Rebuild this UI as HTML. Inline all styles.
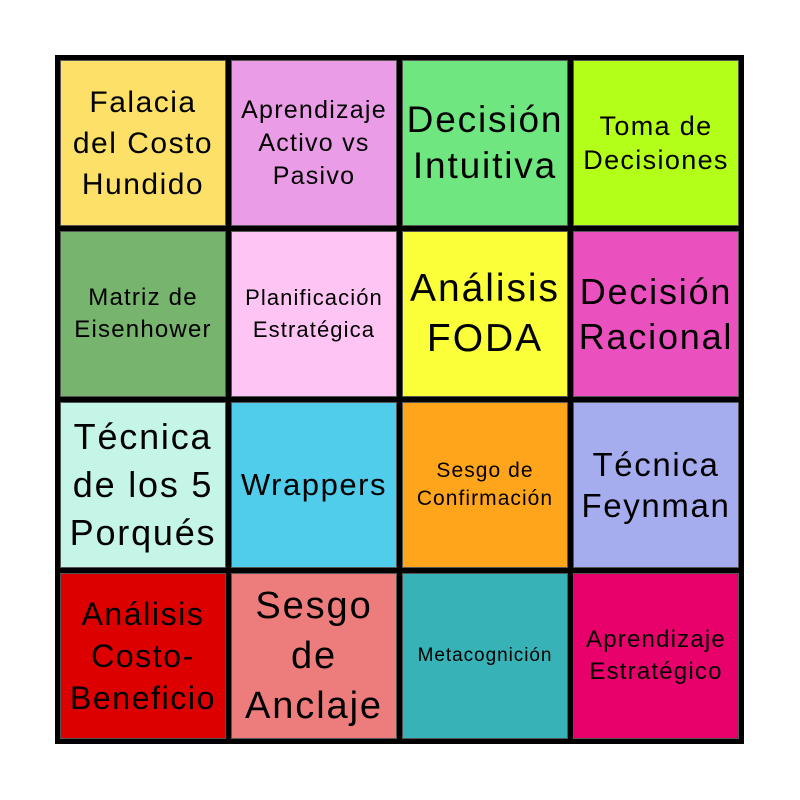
<!DOCTYPE html><html><head><style>
body{margin:0;background:#fff;width:800px;height:800px;position:relative;font-family:Arial,"Liberation Sans",Helvetica,sans-serif}
.g{position:absolute;left:55px;top:55px;width:689px;height:689px;background:#000;display:grid;grid-template-columns:repeat(4,166px);grid-template-rows:repeat(4,166px);gap:5px;padding:5px;box-sizing:border-box}
.g div{display:flex;align-items:center;justify-content:center;text-align:center;box-shadow:inset 0 0 0 1px #555;color:#000;line-height:1.2;letter-spacing:0.05em;white-space:nowrap;font-family:Arial,"Liberation Sans",Helvetica,sans-serif}
</style></head><body><div class="g">
<div style="background:#FCE068;font-size:30px;line-height:41px">Falacia<br>del Costo<br>Hundido</div>
<div style="background:#EA9CE6;font-size:25px;line-height:33px">Aprendizaje<br>Activo vs<br>Pasivo</div>
<div style="background:#6FE67F;font-size:37px;line-height:46px">Decisión<br>Intuitiva</div>
<div style="background:#B3FF1A;font-size:27px;line-height:34px">Toma de<br>Decisiones</div>
<div style="background:#77B46E;font-size:24px;line-height:32px">Matriz de<br>Eisenhower</div>
<div style="background:#FDC4F4;font-size:22px;line-height:32px">Planificación<br>Estratégica</div>
<div style="background:#FAFF3A;font-size:39px;line-height:50px">Análisis<br>FODA</div>
<div style="background:#EA50BE;font-size:36px;line-height:45px">Decisión<br>Racional</div>
<div style="background:#C4F5E7;font-size:36px;line-height:48px">Técnica<br>de los 5<br>Porqués</div>
<div style="background:#4FCDEA;font-size:31px">Wrappers</div>
<div style="background:#FFA51C;font-size:21px;line-height:28px">Sesgo de<br>Confirmación</div>
<div style="background:#A6ADEF;font-size:33px;line-height:41px">Técnica<br>Feynman</div>
<div style="background:#DD0000;font-size:32px;line-height:42px">Análisis<br>Costo-<br>Beneficio</div>
<div style="background:#EC7D7C;font-size:38px;line-height:50px">Sesgo<br>de<br>Anclaje</div>
<div style="background:#37B2B6;font-size:19px">Metacognición</div>
<div style="background:#E8006B;font-size:24px;line-height:32px">Aprendizaje<br>Estratégico</div>
</div></body></html>
